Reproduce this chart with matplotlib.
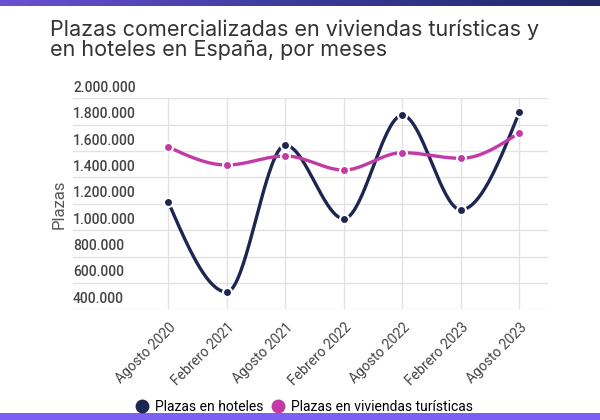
import numpy as np
import matplotlib as mpl
import matplotlib.pyplot as plt
from matplotlib.transforms import blended_transform_factory, offset_copy

meses = ["Agosto 2020", "Febrero 2021", "Agosto 2021", "Febrero 2022",
         "Agosto 2022", "Febrero 2023", "Agosto 2023"]
hoteles = [1212000, 531000, 1644000, 1087000, 1871000, 1155000, 1896000]
viviendas = [1631000, 1494000, 1563000, 1456000, 1588000, 1545000, 1739000]
yticks = [400000, 600000, 800000, 1000000, 1200000, 1400000, 1600000, 1800000, 2000000]

NAVY = "#1d2551"
MAGENTA = "#c23aa5"


def monotone_x(y, n=40):
    # d3 curveMonotoneX style interpolation
    y = np.asarray(y, dtype=float)
    x = np.arange(len(y), dtype=float)
    s = np.diff(y)
    t = np.zeros(len(y))
    for i in range(1, len(y) - 1):
        s0, s1 = s[i - 1], s[i]
        p = (s0 + s1) / 2
        t[i] = (np.sign(s0) + np.sign(s1)) * min(abs(s0), abs(s1), 0.5 * abs(p))
    t[0] = (3 * s[0] - t[1]) / 2
    t[-1] = (3 * s[-1] - t[-2]) / 2
    xs, ys = [], []
    for i in range(len(y) - 1):
        u = np.linspace(0, 1, n)
        h00 = 2 * u**3 - 3 * u**2 + 1
        h10 = u**3 - 2 * u**2 + u
        h01 = -2 * u**3 + 3 * u**2
        h11 = u**3 - u**2
        xs.append(x[i] + u)
        ys.append(h00 * y[i] + h10 * t[i] + h01 * y[i + 1] + h11 * t[i + 1])
    return np.concatenate(xs), np.concatenate(ys)


fig = plt.figure(figsize=(6, 4.2), dpi=100)
fig.patch.set_facecolor("white")

# top gradient bar and bottom bar
top = fig.add_axes([0, 1 - 6 / 420, 1, 6 / 420])
grad = np.linspace(0, 1, 256)[None, :]
cmap = mpl.colors.LinearSegmentedColormap.from_list("g", ["#6b50d2", "#3a3a9a", "#1f2a68"])
top.imshow(grad, aspect="auto", cmap=cmap)
top.axis("off")
bot = fig.add_axes([0, 0, 1, 7 / 420])
bot.set_facecolor("#7c60f3")
bot.set_xticks([])
bot.set_yticks([])
for sp in bot.spines.values():
    sp.set_visible(False)

fig.text(50 / 600, 1 - 19 / 420, "Plazas comercializadas en viviendas turísticas y\nen hoteles en España, por meses",
         fontsize=15.5, family="Inter", color="#333333", va="top", ha="left", linespacing=1.0)

ax = fig.add_axes([73 / 600, 1 - 309.3 / 420, (548 - 73) / 600, (309.3 - 98.3) / 420])
ax.set_xlim(-1.63, 6.49)
ax.set_ylim(400000, 2000000)
for sp in ax.spines.values():
    sp.set_visible(False)

ax.set_yticks(yticks)
ax.set_yticklabels([])
ax.tick_params(axis="y", length=0)
ax.grid(axis="y", color="#e2e2e2", linewidth=1)
trans = offset_copy(blended_transform_factory(ax.transAxes, ax.transData), fig=fig, x=0, y=2.5, units="points")
for v in yticks:
    ax.text(0, v, f"{v:,}".replace(",", "."), transform=trans, ha="left", va="bottom",
            fontsize=10, family="Roboto", fontweight="medium", color="#444444")

xs = np.arange(len(meses))
ax.set_xticks(xs)
ax.set_xticklabels(meses, rotation=45, ha="right", rotation_mode="anchor",
                   fontsize=10, family="Roboto", color="#444444")
ax.tick_params(axis="x", length=0, pad=8)
for x in xs:
    ax.axvline(x, color="#e2e2e2", linewidth=1, zorder=0)

ax.set_ylabel("Plazas", fontsize=12, family="Roboto", color="#555555")
ax.yaxis.set_label_coords(-0.013, 0.5)

for vals, color, label in [(hoteles, NAVY, "Plazas en hoteles"),
                           (viviendas, MAGENTA, "Plazas en viviendas turísticas")]:
    cx, cy = monotone_x(vals)
    ax.plot(cx, cy, color=color, linewidth=2.4, solid_capstyle="round", zorder=3)
    ax.plot(xs, vals, "o", color=color, markersize=6.5, markeredgecolor="white",
            markeredgewidth=1.5, zorder=4, label=label)

handles = [mpl.lines.Line2D([], [], marker="o", linestyle="", color=NAVY, markersize=9),
           mpl.lines.Line2D([], [], marker="o", linestyle="", color=MAGENTA, markersize=9)]
fig.legend(handles, ["Plazas en hoteles", "Plazas en viviendas turísticas"],
           loc="center", bbox_to_anchor=(304 / 600, 1 - 407 / 420), ncol=2, frameon=False,
           handletextpad=0.45, columnspacing=0.5, handlelength=1.0,
           prop={"family": "Roboto", "size": 10})

plt.savefig("out.png", dpi=100, facecolor="white")
